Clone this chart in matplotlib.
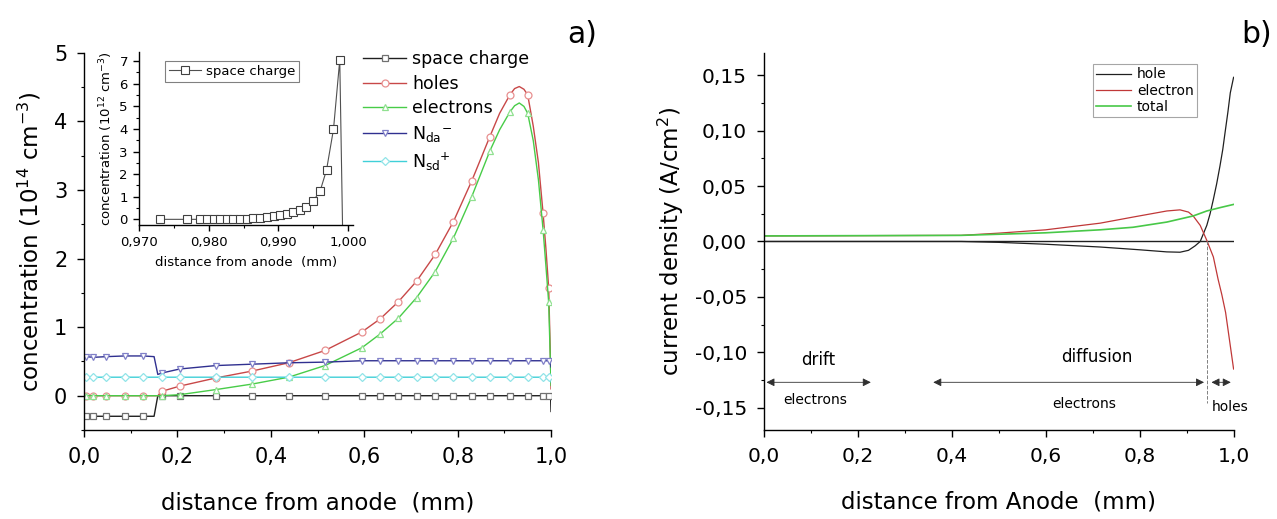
import numpy as np
import matplotlib
matplotlib.use('Agg')
import matplotlib.pyplot as plt
from matplotlib.ticker import MultipleLocator, FuncFormatter

plt.rcParams['font.family'] = ['DejaVu Sans']
plt.rcParams['mathtext.default'] = 'regular'

# --- panel a : concentrations (10^14 cm^-3) vs distance from anode (mm)
x_a = [0.005, 0.020, 0.048, 0.087, 0.127, 0.150, 0.158, 0.166, 0.205, 0.283,
       0.360, 0.438, 0.516, 0.595, 0.634, 0.673, 0.712, 0.752, 0.791, 0.830,
       0.869, 0.890, 0.912, 0.922, 0.932, 0.942, 0.950, 0.962, 0.973, 0.983,
       0.989, 0.995, 0.999, 1.000]
space_charge = [-0.30, -0.30, -0.30, -0.30, -0.30, -0.30, 0.00, 0.00, 0.00, 0.00,
                0.00, 0.00, 0.00, 0.00, 0.00, 0.00, 0.00, 0.00, 0.00, 0.00,
                0.00, 0.00, 0.00, 0.00, 0.00, 0.00, 0.00, 0.00, 0.00, 0.00,
                0.00, 0.00, 0.00, -0.23]
holes = [0.00, 0.00, 0.00, 0.00, 0.00, 0.00, 0.00, 0.063, 0.14, 0.26,
         0.36, 0.48, 0.66, 0.93, 1.12, 1.37, 1.67, 2.06, 2.54, 3.13,
         3.78, 4.12, 4.39, 4.48, 4.51, 4.47, 4.39, 3.93, 3.40, 2.66,
         2.15, 1.57, 0.48, 0.10]
electrons = [0.00, 0.00, 0.00, 0.00, 0.00, 0.00, 0.00, 0.00, 0.015, 0.09,
             0.17, 0.27, 0.44, 0.70, 0.90, 1.13, 1.43, 1.81, 2.30, 2.90,
             3.57, 3.88, 4.14, 4.23, 4.27, 4.22, 4.12, 3.72, 3.15, 2.42,
             1.90, 1.36, 0.40, 0.15]
n_da = [0.57, 0.56, 0.57, 0.58, 0.58, 0.57, 0.31, 0.33, 0.39, 0.44,
        0.46, 0.48, 0.49, 0.51, 0.51, 0.51, 0.51, 0.51, 0.51, 0.51,
        0.51, 0.51, 0.51, 0.51, 0.51, 0.51, 0.51, 0.51, 0.51, 0.51,
        0.51, 0.51, 0.50, 0.42]
n_sd = [0.27, 0.27, 0.27, 0.27, 0.27, 0.27, 0.27, 0.27, 0.27, 0.27,
        0.27, 0.27, 0.27, 0.27, 0.27, 0.27, 0.27, 0.27, 0.27, 0.27,
        0.27, 0.27, 0.27, 0.27, 0.27, 0.27, 0.27, 0.27, 0.27, 0.27,
        0.27, 0.27, 0.26, 0.20]
marks_a = [0, 1, 2, 3, 4, 7, 8, 9, 10, 11, 12, 13, 14, 15, 16, 17, 18, 19, 20, 22, 26, 29, 31]

# inset : space charge near the cathode (10^12 cm^-3)
x_in = [0.9730, 0.9769, 0.9788, 0.9798, 0.9807, 0.9816, 0.9826, 0.9835, 0.9845, 0.9855,
        0.9864, 0.9874, 0.9883, 0.9893, 0.9902, 0.9912, 0.9921, 0.9931, 0.9940, 0.9950,
        0.9960, 0.9969, 0.9979, 0.9988, 0.9992]
sc_in = [0.00, 0.00, 0.00, 0.00, 0.00, 0.00, 0.00, 0.01, 0.02, 0.03,
         0.04, 0.06, 0.09, 0.13, 0.19, 0.25, 0.31, 0.40, 0.56, 0.81,
         1.27, 2.18, 3.98, 7.05, -0.30]

# --- panel b : current density (A/cm^2)
x_hole = [0.0, 0.42, 0.5, 0.6, 0.716, 0.8, 0.858, 0.886, 0.904, 0.918, 0.929,
          0.943, 0.950, 0.957, 0.964, 0.971, 0.977, 0.982, 0.988, 0.993, 0.997, 1.0]
j_hole = [0.0, 0.0, -0.0008, -0.0025, -0.005, -0.0075, -0.0094, -0.0097, -0.008, -0.004, 0.0,
          0.0145, 0.025, 0.038, 0.052, 0.068, 0.083, 0.0986, 0.117, 0.134, 0.142, 0.148]
x_el = [0.0, 0.42, 0.5, 0.6, 0.716, 0.786, 0.858, 0.886, 0.904, 0.914, 0.929,
        0.943, 0.957, 0.967, 0.975, 0.983, 0.990, 0.995, 1.0]
j_el = [0.005, 0.0055, 0.0075, 0.0105, 0.0165, 0.022, 0.0275, 0.0285, 0.0265, 0.023, 0.0145,
        0.001, -0.014, -0.034, -0.048, -0.064, -0.085, -0.100, -0.115]
x_tot = [0.0, 0.42, 0.5, 0.6, 0.716, 0.786, 0.858, 0.914, 0.943, 0.971, 1.0]
j_tot = [0.005, 0.0055, 0.0065, 0.0078, 0.0105, 0.0128, 0.0175, 0.023, 0.0275, 0.0305, 0.0334]

comma = lambda fmt: FuncFormatter(lambda v, p: (fmt % v).replace('.', ','))


def style_axes(ax, size, major=5, minor=2.5, pad=5):
    ax.spines['top'].set_visible(False)
    ax.spines['right'].set_visible(False)
    for s in ('left', 'bottom'):
        ax.spines[s].set_linewidth(1.0)
    ax.tick_params(which='major', direction='out', length=major, width=1.0,
                   labelsize=size, pad=pad)
    ax.tick_params(which='minor', direction='out', length=minor, width=0.8)


fig = plt.figure(figsize=(12.77, 5.19), dpi=100)

# ---------------- panel a
ax = fig.add_axes([0.0658, 0.1715, 0.3657, 0.7265])
series = [
    ('space charge', space_charge, '#202020', '#707070', 's'),
    ('holes', holes, '#c84848', '#e89090', 'o'),
    ('electrons', electrons, '#48cc48', '#90e090', '^'),
    ('N$_{da}$$^{-}$', n_da, '#303090', '#8080c8', 'v'),
    ('N$_{sd}$$^{+}$', n_sd, '#40d0d8', '#90e4e8', 'D'),
]
for lab, ys, lc, mc, mk in series:
    ax.plot(x_a, ys, color=lc, lw=1.0, marker=mk, markevery=marks_a,
            ms=5 if mk != 'D' else 4.3, mfc='white', mec=mc, mew=0.9, label=lab)
ax.set_xlim(0, 1.0)
ax.set_ylim(-0.5, 5)
ax.xaxis.set_major_locator(MultipleLocator(0.2))
ax.xaxis.set_minor_locator(MultipleLocator(0.1))
ax.yaxis.set_major_locator(MultipleLocator(1))
ax.yaxis.set_minor_locator(MultipleLocator(0.5))
ax.xaxis.set_major_formatter(comma('%.1f'))
style_axes(ax, 15, pad=7)
ax.set_xlabel('distance from anode  (mm)', fontsize=16.5, labelpad=18)
ax.set_ylabel('concentration (10$^{14}$ cm$^{-3}$)', fontsize=16.5, labelpad=8)
ax.legend(loc='upper left', bbox_to_anchor=(363 / 1277, 1 - 50 / 519),
          bbox_transform=fig.transFigure, frameon=False, fontsize=12.5,
          handlelength=2.5, handletextpad=0.35, labelspacing=0.38,
          borderpad=0, borderaxespad=0)

# inset
axi = fig.add_axes([139 / 1277, 1 - 225 / 519, (353 - 139) / 1277, (225 - 52) / 519])
axi.plot(x_in, sc_in, color='#505050', lw=0.8, marker='s', markevery=list(range(24)),
         ms=5.5, mfc='white', mec='#404040', mew=0.8, label='space charge')
axi.set_xlim(0.970, 1.0007)
axi.set_ylim(-0.25, 7.4)
axi.xaxis.set_major_locator(MultipleLocator(0.01))
axi.xaxis.set_minor_locator(MultipleLocator(0.005))
axi.yaxis.set_major_locator(MultipleLocator(1))
axi.yaxis.set_minor_locator(MultipleLocator(0.5))
axi.xaxis.set_major_formatter(comma('%.3f'))
style_axes(axi, 9.5, major=4, minor=2, pad=4)
axi.set_xlabel('distance from anode  (mm)', fontsize=9.5, labelpad=5)
axi.set_ylabel('concentration (10$^{12}$ cm$^{-3}$)', fontsize=9.5, labelpad=3)
leg = axi.legend(loc='upper left', bbox_to_anchor=(165 / 1277, 1 - 61 / 519),
                 bbox_transform=fig.transFigure, fontsize=9.5, fancybox=False,
                 edgecolor='#606060', handlelength=2.4, handletextpad=0.4,
                 borderpad=0.3, borderaxespad=0)
leg.get_frame().set_linewidth(0.8)

fig.text(0.456, 0.933, 'a)', fontsize=21.5, ha='center', va='center')

# ---------------- panel b
bx = fig.add_axes([0.598, 0.1715, 0.368, 0.7265])
bx.axhline(0, color='#202020', lw=1.0)
bx.plot(x_hole, j_hole, color='#202020', lw=0.9, label='hole')
bx.plot(x_el, j_el, color='#c03838', lw=0.9, label='electron')
bx.plot(x_tot, j_tot, color='#48c848', lw=1.2, label='total')
bx.set_xlim(0, 1.0)
bx.set_ylim(-0.17, 0.17)
bx.xaxis.set_major_locator(MultipleLocator(0.2))
bx.xaxis.set_minor_locator(MultipleLocator(0.1))
bx.yaxis.set_major_locator(MultipleLocator(0.05))
bx.yaxis.set_minor_locator(MultipleLocator(0.025))
bx.xaxis.set_major_formatter(comma('%.1f'))
bx.yaxis.set_major_formatter(comma('%.2f'))
style_axes(bx, 14.5, pad=7)
bx.set_xlabel('distance from Anode  (mm)', fontsize=16.5, labelpad=18)
bx.set_ylabel('current density (A/cm$^{2}$)', fontsize=16.5, labelpad=6)
leg = bx.legend(loc='upper left', bbox_to_anchor=(1093 / 1277, 1 - 64 / 519),
                bbox_transform=fig.transFigure, fontsize=10, fancybox=False,
                edgecolor='#909090', handlelength=2.5, handletextpad=0.4,
                labelspacing=0.15, borderpad=0.25, borderaxespad=0)
leg.get_frame().set_linewidth(0.8)

# region annotations
arrow = dict(arrowstyle='<|-|>', color='#303030', lw=0.6, mutation_scale=12)
bx.annotate('', xy=(0.234, -0.127), xytext=(0.0, -0.127), arrowprops=arrow)
bx.annotate('', xy=(0.943, -0.127), xytext=(0.355, -0.127), arrowprops=arrow)
bx.annotate('', xy=(1.0, -0.127), xytext=(0.947, -0.127), arrowprops=arrow)
bx.plot([0.944, 0.944], [0.0, -0.146], color='#808080', lw=0.7, ls='--')
bx.text(0.115, -0.107, 'drift', fontsize=12, ha='center', va='center')
bx.text(0.709, -0.104, 'diffusion', fontsize=12, ha='center', va='center')
bx.text(0.11, -0.143, 'electrons', fontsize=10, ha='center', va='center')
bx.text(0.683, -0.147, 'electrons', fontsize=10, ha='center', va='center')
bx.text(0.993, -0.149, 'holes', fontsize=10, ha='center', va='center')

fig.text(0.984, 0.933, 'b)', fontsize=21.5, ha='center', va='center')

fig.savefig('out.png', dpi=100)
